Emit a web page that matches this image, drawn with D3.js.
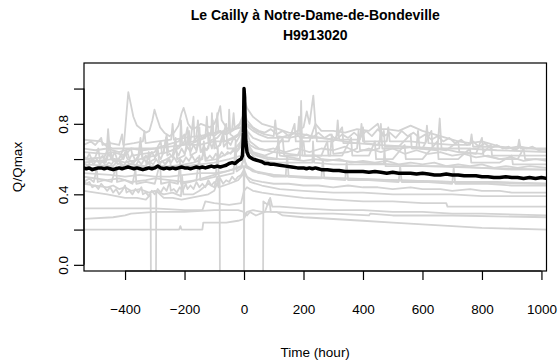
<!DOCTYPE html>
<html><head><meta charset="utf-8">
<script src="https://cdn.jsdelivr.net/npm/d3@7"></script>
<style>body{margin:0;background:#fff}svg{display:block}text{font-family:"Liberation Sans",Arial,sans-serif}</style>
</head><body><svg id="c" width="560" height="361"></svg>
<script>
const titleLines = ["Le Cailly à Notre-Dame-de-Bondeville", "H9913020"];
const xLabel = "Time (hour)";
const yLabel = "Q/Qmax";
const xTicks = [-400, -200, 0, 200, 400, 600, 800, 1000];
const yTicks = [0, 0.2, 0.4, 0.6, 0.8, 1.0];
const yTickLabels = ["0.0", "", "0.4", "", "0.8", ""];

// gray event series: [hour, Q/Qmax]
const g1 = [[-540,0.60],[-470,0.61],[-462,0.64],[-457,0.77],[-452,0.66],[-440,0.60],[-420,0.60],[-405,0.66],[-395,0.86],[-389,0.98],[-383,0.93],[-372,0.84],[-360,0.79],[-345,0.77],[-330,0.75],[-318,0.76],[-308,0.82],[-301,0.88],[-294,0.84],[-282,0.78],[-268,0.75],[-250,0.73],[-235,0.75],[-220,0.79],[-210,0.86],[-203,0.89],[-196,0.85],[-188,0.80],[-175,0.77],[-160,0.78],[-145,0.80],[-130,0.79],[-115,0.78],[-100,0.80],[-90,0.84],[-80,0.90],[-75,0.82],[-60,0.78],[-45,0.76],[-30,0.78],[-15,0.80],[-5,0.84],[0,0.86],[5,0.82],[15,0.78],[30,0.76],[50,0.74],[80,0.72],[120,0.72],[160,0.74],[200,0.78],[211,0.87],[220,0.80],[233,0.96],[240,0.80],[260,0.76],[300,0.76],[340,0.75],[380,0.77],[420,0.76],[450,0.80],[455,0.77],[480,0.77],[520,0.76],[560,0.79],[600,0.76],[640,0.74],[680,0.72],[720,0.70],[760,0.69],[800,0.70],[840,0.68],[880,0.66],[920,0.67],[1020,0.65]];
const g2 = [[-540,0.71],[-480,0.70],[-460,0.67],[-440,0.66],[-400,0.66],[-350,0.66],[-300,0.66],[-250,0.67],[-200,0.68],[-150,0.68],[-100,0.70],[-60,0.70],[-30,0.72],[-10,0.75],[0,0.86],[5,0.92],[10,0.89],[30,0.84],[60,0.80],[100,0.78],[150,0.75],[200,0.74],[260,0.72],[300,0.71],[375,0.69],[450,0.68],[550,0.67],[650,0.66],[750,0.66],[850,0.65],[1020,0.64]];
const g3 = [[-540,0.60],[-470,0.58],[-460,0.62],[-452,0.70],[-447,0.60],[-430,0.58],[-410,0.60],[-400,0.64],[-392,0.60],[-370,0.58],[-355,0.62],[-348,0.72],[-342,0.60],[-320,0.58],[-300,0.60],[-290,0.66],[-285,0.58],[-260,0.60],[-240,0.62],[-230,0.72],[-225,0.60],[-200,0.62],[-185,0.76],[-180,0.62],[-160,0.64],[-150,0.78],[-146,0.64],[-120,0.66],[-105,0.82],[-100,0.66],[-80,0.68],[-60,0.80],[-56,0.66],[-30,0.66],[-10,0.70],[0,0.82],[8,0.70],[30,0.64],[70,0.62],[100,0.64],[130,0.72],[135,0.62],[180,0.62],[200,0.70],[205,0.62],[260,0.62],[280,0.70],[284,0.62],[330,0.62],[360,0.72],[364,0.62],[420,0.62],[440,0.70],[444,0.60],[500,0.60],[540,0.68],[544,0.60],[600,0.60],[650,0.70],[654,0.60],[720,0.60],[760,0.66],[764,0.58],[860,0.58],[900,0.62],[904,0.57],[1020,0.57]];
const g4 = [[-540,0.57],[-440,0.56],[-420,0.60],[-415,0.56],[-380,0.57],[-330,0.56],[-320,0.64],[-316,0.56],[-270,0.56],[-250,0.60],[-246,0.56],[-200,0.57],[-170,0.58],[-140,0.60],[-135,0.70],[-130,0.59],[-90,0.60],[-70,0.62],[-40,0.64],[-20,0.66],[-5,0.72],[0,0.78],[10,0.66],[40,0.60],[100,0.58],[160,0.58],[230,0.58],[232,0.70],[236,0.58],[300,0.57],[400,0.57],[470,0.57],[472,0.66],[476,0.56],[600,0.56],[700,0.56],[800,0.55],[900,0.54],[1020,0.54]];
const g5 = [[-540,0.52],[-450,0.51],[-400,0.50],[-350,0.51],[-300,0.50],[-250,0.50],[-200,0.51],[-150,0.52],[-100,0.52],[-60,0.53],[-20,0.55],[-1,0.56],[0,-0.1],[1,0.56],[10,0.55],[50,0.52],[150,0.50],[300,0.49],[500,0.48],[700,0.47],[1020,0.46]];
const g6 = [[-540,0.46],[-460,0.44],[-440,0.45],[-420,0.43],[-400,0.44],[-380,0.42],[-350,0.43],[-320,0.41],[-300,0.42],[-270,0.40],[-240,0.41],[-212,0.39],[-208,0.50],[-204,0.40],[-170,0.40],[-150,0.42],[-120,0.46],[-100,0.44],[-90,0.50],[-86,0.44],[-50,0.46],[-20,0.48],[0,0.52],[20,0.47],[60,0.45],[120,0.43],[200,0.42],[300,0.41],[400,0.41],[500,0.40],[600,0.40],[700,0.40],[800,0.39],[1020,0.39]];
const g7 = [[-540,0.42],[-460,0.40],[-430,0.39],[-400,0.38],[-360,0.38],[-330,0.37],[-314,0.40],[-313,-0.1],[-296,-0.1],[-295,0.42],[-270,0.38],[-240,0.38],[-210,0.37],[-180,0.38],[-150,0.39],[-120,0.40],[-100,0.42],[-82,0.50],[-81,-0.1],[64,-0.1],[65,0.36],[80,0.34],[88,0.38],[95,0.33],[120,0.33],[200,0.32],[300,0.31],[400,0.31],[500,0.30],[600,0.30],[700,0.29],[800,0.29],[1020,0.28]];
const g8 = [[-540,0.32],[-400,0.32],[-300,0.32],[-200,0.31],[-140,0.31],[-130,0.36],[-100,0.35],[-50,0.34],[-10,0.35],[0,0.42],[10,0.44],[30,0.42],[60,0.41],[100,0.40],[150,0.39],[200,0.38],[300,0.37],[400,0.36],[500,0.36],[600,0.35],[680,0.35],[684,0.33],[800,0.33],[1020,0.33]];
const g9 = [[-540,0.26],[-440,0.27],[-400,0.28],[-380,0.29],[-300,0.30],[-200,0.30],[-100,0.31],[-20,0.31],[0,0.30],[10,0.28],[20,0.30],[40,0.28],[70,0.30],[85,0.37],[90,0.30],[110,0.30],[130,0.28],[200,0.27],[300,0.26],[400,0.25],[500,0.24],[600,0.23],[700,0.22],[800,0.21],[1020,0.20]];
const g10 = [[-540,0.20],[-300,0.20],[-218,0.20],[-214,0.22],[-210,0.20],[-140,0.20],[-137,0.24],[-60,0.24],[-20,0.25],[0,0.26],[10,0.30],[30,0.31],[60,0.30],[100,0.30],[200,0.29],[300,0.29],[420,0.28],[424,0.29],[500,0.28],[700,0.28],[1020,0.27]];
const g11 = [[-540,0.64],[-470,0.63],[-440,0.64],[-400,0.62],[-380,0.66],[-375,0.62],[-340,0.63],[-300,0.64],[-280,0.70],[-276,0.63],[-240,0.65],[-220,0.66],[-200,0.70],[-190,0.78],[-185,0.68],[-160,0.70],[-130,0.72],[-125,0.84],[-120,0.70],[-90,0.72],[-70,0.76],[-66,0.70],[-40,0.72],[-20,0.74],[0,0.80],[10,0.76],[30,0.72],[60,0.70],[100,0.70],[150,0.70],[170,0.80],[174,0.70],[220,0.70],[240,0.80],[245,0.70],[300,0.70],[330,0.78],[334,0.69],[380,0.69],[400,0.78],[405,0.69],[450,0.68],[470,0.76],[474,0.67],[520,0.67],[560,0.74],[564,0.66],[600,0.66],[630,0.76],[634,0.66],[680,0.65],[720,0.70],[724,0.64],[800,0.63],[830,0.68],[834,0.62],[900,0.62],[1020,0.62]];
const g12 = [[-540,0.55],[-400,0.55],[-350,0.56],[-300,0.55],[-250,0.56],[-200,0.56],[-150,0.57],[-100,0.58],[-50,0.60],[-10,0.62],[0,0.70],[10,0.66],[40,0.62],[80,0.60],[110,0.60],[115,0.72],[120,0.62],[160,0.61],[188,0.60],[192,0.93],[196,0.62],[250,0.62],[290,0.62],[295,0.74],[300,0.63],[350,0.64],[380,0.66],[385,0.76],[390,0.65],[430,0.65],[455,0.66],[460,0.80],[465,0.66],[520,0.66],[580,0.67],[585,0.76],[590,0.66],[650,0.65],[658,0.83],[664,0.66],[720,0.64],[780,0.63],[800,0.72],[805,0.62],[860,0.60],[920,0.60],[940,0.66],[945,0.60],[1020,0.60]];
const g13 = [[-540,0.58],[-440,0.60],[-400,0.58],[-350,0.60],[-300,0.62],[-270,0.64],[-260,0.74],[-255,0.64],[-230,0.66],[-215,0.68],[-212,0.82],[-208,0.68],[-180,0.70],[-170,0.84],[-166,0.70],[-140,0.72],[-110,0.74],[-108,0.86],[-104,0.74],[-85,0.76],[-70,0.74],[-52,0.76],[-50,0.88],[-46,0.74],[-30,0.72],[-15,0.74],[-5,0.80],[0,0.85],[8,0.76],[20,0.70],[50,0.66],[100,0.64],[150,0.63],[200,0.62],[240,0.62],[260,0.60],[400,0.58],[600,0.56],[800,0.55],[1020,0.54]];
const g14 = [[-540,0.50],[-460,0.48],[-420,0.49],[-380,0.47],[-330,0.48],[-300,0.49],[-250,0.48],[-200,0.47],[-160,0.48],[-120,0.50],[-80,0.52],[-40,0.54],[-10,0.56],[0,0.60],[10,0.56],[40,0.53],[100,0.51],[200,0.50],[350,0.49],[500,0.48],[700,0.47],[850,0.47],[1020,0.46]];
const g15 = [[-540,0.62],[-530,0.60],[-520,0.63],[-510,0.59],[-500,0.61],[-490,0.66],[-485,0.60],[-475,0.62],[-465,0.58],[-455,0.63],[-445,0.60],[-435,0.64],[-425,0.59],[-415,0.62],[-405,0.60],[-395,0.65],[-385,0.60],[-375,0.63],[-365,0.59],[-355,0.61],[-345,0.66],[-340,0.60],[-330,0.62],[-320,0.60],[-310,0.64],[-300,0.61],[-290,0.63],[-280,0.60],[-270,0.64],[-262,0.72],[-258,0.62],[-250,0.63],[-240,0.61],[-230,0.65],[-220,0.62],[-210,0.66],[-200,0.63],[-190,0.67],[-180,0.64],[-170,0.68],[-160,0.65],[-150,0.70],[-145,0.64],[-135,0.67],[-125,0.65],[-115,0.70],[-108,0.66],[-98,0.72],[-92,0.66],[-82,0.68],[-72,0.74],[-68,0.67],[-55,0.70],[-45,0.68],[-35,0.72],[-25,0.70],[-15,0.73],[-5,0.76],[0,0.80],[6,0.72],[20,0.68],[40,0.66],[70,0.65],[100,0.66],[140,0.64],[180,0.66],[220,0.64],[260,0.66],[300,0.65],[340,0.67],[380,0.64],[420,0.66],[460,0.64],[500,0.66],[540,0.63],[580,0.65],[620,0.63],[660,0.64],[700,0.62],[740,0.63],[780,0.61],[820,0.62],[860,0.60],[900,0.61],[940,0.59],[980,0.60],[1020,0.59]];
const g16 = [[-540,0.48],[-530,0.46],[-520,0.47],[-510,0.44],[-500,0.45],[-490,0.43],[-480,0.46],[-470,0.44],[-460,0.42],[-450,0.44],[-440,0.41],[-430,0.43],[-420,0.40],[-410,0.42],[-400,0.45],[-395,0.41],[-385,0.42],[-375,0.40],[-365,0.43],[-355,0.41],[-345,0.44],[-340,0.40],[-330,0.41],[-320,0.39],[-310,0.42],[-300,0.40],[-290,0.43],[-280,0.41],[-270,0.44],[-260,0.42],[-250,0.47],[-246,0.42],[-236,0.43],[-226,0.41],[-216,0.44],[-206,0.42],[-196,0.46],[-190,0.43],[-180,0.45],[-170,0.43],[-160,0.47],[-150,0.44],[-140,0.46],[-130,0.44],[-120,0.48],[-110,0.45],[-100,0.47],[-90,0.45],[-80,0.49],[-70,0.46],[-60,0.48],[-50,0.47],[-40,0.50],[-30,0.48],[-20,0.50],[-10,0.51],[0,0.54],[10,0.50],[30,0.48],[60,0.47],[100,0.46],[150,0.46],[200,0.45],[250,0.45],[300,0.44],[350,0.45],[400,0.44],[450,0.44],[500,0.43],[560,0.44],[600,0.43],[660,0.43],[700,0.42],[760,0.43],[800,0.42],[860,0.42],[900,0.41],[960,0.41],[1020,0.41]];
const g17 = [[-540,0.66],[-500,0.65],[-460,0.66],[-420,0.64],[-380,0.66],[-340,0.65],[-300,0.66],[-260,0.68],[-220,0.70],[-200,0.74],[-196,0.69],[-170,0.70],[-150,0.74],[-140,0.72],[-120,0.75],[-100,0.73],[-80,0.76],[-60,0.74],[-40,0.76],[-20,0.78],[-5,0.82],[0,0.88],[10,0.82],[30,0.78],[50,0.76],[70,0.75],[90,0.77],[110,0.74],[130,0.76],[150,0.73],[170,0.75],[190,0.72],[210,0.74],[230,0.72],[250,0.75],[270,0.72],[290,0.74],[310,0.71],[330,0.74],[350,0.72],[370,0.75],[390,0.72],[410,0.76],[430,0.73],[450,0.77],[470,0.73],[490,0.75],[510,0.72],[530,0.76],[550,0.73],[570,0.75],[590,0.72],[610,0.74],[630,0.71],[650,0.73],[670,0.70],[690,0.72],[710,0.69],[730,0.71],[750,0.68],[770,0.70],[790,0.67],[810,0.69],[830,0.66],[850,0.68],[870,0.66],[890,0.67],[910,0.65],[930,0.67],[950,0.66],[970,0.67],[990,0.65],[1020,0.66]];
const g18 = [[-540,0.58],[-525,0.56],[-515,0.59],[-505,0.57],[-495,0.60],[-485,0.57],[-475,0.59],[-465,0.56],[-455,0.58],[-445,0.57],[-435,0.60],[-425,0.57],[-415,0.58],[-405,0.56],[-395,0.59],[-385,0.57],[-375,0.58],[-365,0.56],[-355,0.59],[-345,0.57],[-335,0.60],[-325,0.57],[-315,0.58],[-305,0.57],[-295,0.60],[-285,0.57],[-275,0.59],[-265,0.57],[-255,0.60],[-245,0.58],[-235,0.61],[-225,0.58],[-215,0.60],[-205,0.58],[-195,0.61],[-185,0.59],[-175,0.62],[-165,0.59],[-155,0.61],[-145,0.60],[-135,0.63],[-125,0.60],[-115,0.62],[-105,0.60],[-95,0.63],[-85,0.61],[-75,0.64],[-65,0.62],[-55,0.64],[-45,0.63],[-35,0.66],[-25,0.64],[-15,0.66],[-5,0.70],[0,0.74],[8,0.68],[25,0.64],[50,0.62],[80,0.61],[120,0.60],[160,0.60],[200,0.59],[240,0.60],[280,0.59],[320,0.60],[360,0.58],[400,0.59],[440,0.58],[480,0.59],[520,0.57],[560,0.58],[600,0.57],[640,0.58],[680,0.56],[720,0.57],[760,0.56],[800,0.57],[840,0.55],[880,0.56],[920,0.55],[960,0.56],[1020,0.55]];
const g19 = [[-540,0.47],[-520,0.49],[-505,0.47],[-495,0.55],[-492,0.47],[-470,0.48],[-445,0.47],[-430,0.56],[-427,0.47],[-400,0.48],[-375,0.46],[-365,0.54],[-362,0.46],[-330,0.47],[-300,0.46],[-282,0.58],[-279,0.46],[-250,0.47],[-222,0.46],[-215,0.60],[-212,0.46],[-180,0.47],[-160,0.48],[-150,0.62],[-147,0.48],[-120,0.49],[-95,0.50],[-88,0.66],[-85,0.50],[-60,0.51],[-35,0.52],[-28,0.70],[-25,0.53],[-8,0.55],[0,0.62],[6,0.56],[30,0.53],[60,0.52],[100,0.50],[140,0.50],[145,0.62],[150,0.50],[220,0.49],[260,0.49],[265,0.60],[270,0.49],[340,0.48],[345,0.58],[350,0.48],[420,0.48],[520,0.47],[525,0.56],[530,0.47],[620,0.47],[700,0.46],[705,0.55],[710,0.46],[820,0.46],[900,0.45],[1020,0.45]];
const g20 = [[-540,0.68],[-515,0.70],[-500,0.68],[-480,0.72],[-476,0.68],[-450,0.69],[-420,0.68],[-410,0.74],[-406,0.68],[-370,0.69],[-340,0.70],[-335,0.76],[-331,0.69],[-290,0.70],[-245,0.71],[-240,0.80],[-236,0.71],[-200,0.72],[-160,0.73],[-155,0.82],[-151,0.73],[-120,0.74],[-95,0.75],[-90,0.86],[-86,0.75],[-60,0.76],[-40,0.77],[-35,0.86],[-31,0.77],[-10,0.78],[0,0.84],[10,0.80],[40,0.76],[70,0.74],[100,0.73],[105,0.82],[110,0.73],[150,0.72],[180,0.73],[185,0.84],[190,0.72],[250,0.72],[310,0.71],[315,0.82],[320,0.71],[390,0.71],[395,0.80],[400,0.70],[480,0.70],[485,0.78],[490,0.70],[560,0.70],[610,0.69],[615,0.79],[620,0.69],[700,0.68],[760,0.68],[765,0.74],[770,0.67],[860,0.67],[920,0.66],[925,0.71],[930,0.66],[1020,0.66]];
const grays = [g1, g2, g3, g4, g5, g6, g7, g8, g9, g10, g11, g12, g13, g14, g15, g16, g17, g18, g19, g20];

// mean (black) series
const blackT = [-540,-530,-520,-510,-500,-490,-480,-470,-460,-450,-440,-430,-420,-410,-400,-390,-380,-370,-360,-350,-340,-330,-320,-310,-300,-290,-280,-270,-260,-250,-240,-230,-220,-210,-200,-190,-180,-170,-160,-150,-140,-130,-120,-110,-100,-90,-80,-70,-60,-50,-40,-30,-20,-10,-5,-2,0,2,4,6,10,15,20,30,40,50,60,70,80,90,100,120,140,160,180,200,210,220,230,240,250,260,280,300,320,340,360,380,400,420,440,460,480,500,520,540,560,580,600,620,640,660,680,700,720,740,760,780,800,820,840,860,880,900,920,940,960,980,1000,1020];
const blackV = [0.55,0.545,0.55,0.54,0.545,0.55,0.55,0.545,0.55,0.545,0.54,0.545,0.55,0.545,0.55,0.555,0.55,0.545,0.55,0.545,0.54,0.545,0.55,0.545,0.55,0.56,0.55,0.545,0.55,0.545,0.55,0.545,0.55,0.555,0.55,0.55,0.545,0.55,0.555,0.55,0.555,0.55,0.555,0.56,0.555,0.56,0.555,0.56,0.565,0.575,0.58,0.575,0.59,0.60,0.62,0.75,1.0,0.95,0.80,0.70,0.64,0.62,0.61,0.60,0.595,0.59,0.585,0.575,0.575,0.57,0.57,0.565,0.56,0.555,0.55,0.55,0.545,0.55,0.545,0.55,0.545,0.54,0.54,0.535,0.535,0.53,0.53,0.53,0.53,0.525,0.53,0.525,0.52,0.525,0.52,0.52,0.52,0.515,0.52,0.515,0.51,0.51,0.515,0.51,0.51,0.505,0.505,0.505,0.50,0.50,0.495,0.495,0.50,0.495,0.495,0.49,0.495,0.49,0.495,0.49];

const svg = d3.select("#c");
const L = 84, R = 546.5, T = 63, B = 271;
const x = d3.scaleLinear().domain([-538, 1017]).range([L, R]);
const y = d3.scaleLinear().domain([-0.035, 1.145]).range([B, T]);

svg.append("defs").append("clipPath").attr("id","clip")
  .append("rect").attr("x", L).attr("y", T).attr("width", R-L).attr("height", B-T);

const line = d3.line().x(d => x(d[0])).y(d => y(d[1]));
const gp = svg.append("g").attr("clip-path","url(#clip)");
gp.selectAll("path.g").data(grays).join("path").attr("class","g")
  .attr("d", line).attr("fill","none").attr("stroke","#d3d3d3").attr("stroke-width",1.8)
  .attr("stroke-linejoin","round");
const blackData = blackT.map((t,i) => [t, blackV[i]]);
gp.append("path").datum(blackData).attr("d", line).attr("fill","none")
  .attr("stroke","#000").attr("stroke-width",3.5).attr("stroke-linejoin","round");

// box
svg.append("rect").attr("x",L).attr("y",T).attr("width",R-L).attr("height",B-T)
  .attr("fill","none").attr("stroke","#000").attr("stroke-width",1.2);

// axes
const xa = svg.append("g").attr("transform",`translate(0,${B})`)
  .call(d3.axisBottom(x).tickValues(xTicks).tickSize(9).tickPadding(24).tickFormat(d3.format("d")));
const ya = svg.append("g").attr("transform",`translate(${L},0)`)
  .call(d3.axisLeft(y).tickValues(yTicks).tickSize(10).tickFormat((d,i) => yTickLabels[i]));
[xa, ya].forEach(a => {
  a.select(".domain").remove();
  a.selectAll(".tick line").attr("stroke","#000").attr("stroke-width",1.2);
  a.selectAll("text").attr("fill","#000").attr("font-size",13.5).attr("font-family","'Liberation Sans',Arial,sans-serif");
});
xa.append("line").attr("x1",x(xTicks[0])).attr("x2",x(xTicks[xTicks.length-1])).attr("stroke","#000").attr("stroke-width",1.2);
ya.append("line").attr("y1",y(0)).attr("y2",y(1)).attr("stroke","#000").attr("stroke-width",1.2);
ya.selectAll(".tick").each(function(){
  d3.select(this).select("text").attr("transform","translate(-16,0) rotate(-90)")
    .attr("x",0).attr("y",0).attr("dy","0").attr("text-anchor","middle");
});

svg.append("text").attr("x",(L+R)/2).attr("y",20).attr("text-anchor","middle")
  .attr("font-weight","bold").attr("font-size",14).text(titleLines[0]);
svg.append("text").attr("x",(L+R)/2).attr("y",40).attr("text-anchor","middle")
  .attr("font-weight","bold").attr("font-size",14).text(titleLines[1]);
svg.append("text").attr("x",(L+R)/2).attr("y",357).attr("text-anchor","middle")
  .attr("font-size",13.5).text(xLabel);
svg.append("text").attr("transform",`translate(22,${(T+B)/2}) rotate(-90)`).attr("text-anchor","middle")
  .attr("font-size",13.5).text(yLabel);
</script></body></html>
